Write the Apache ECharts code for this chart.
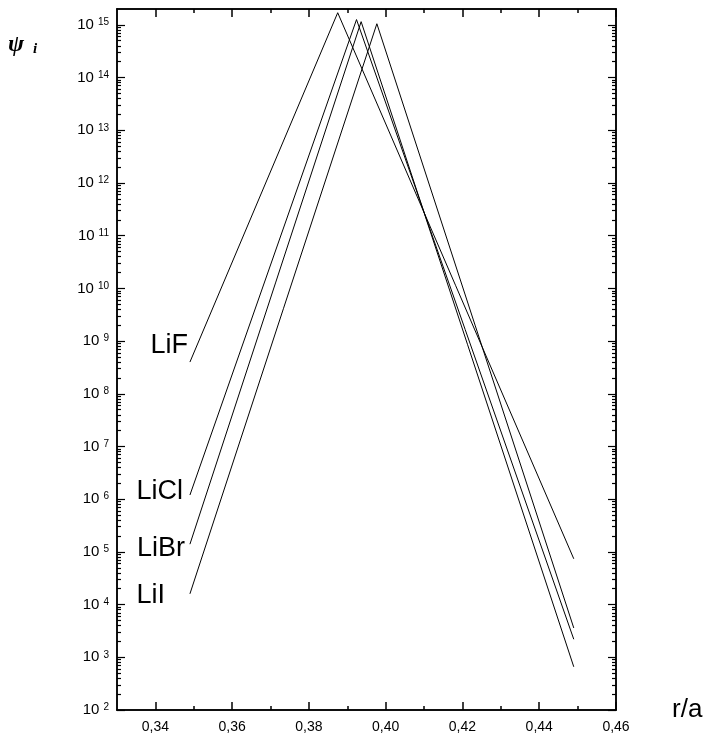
<!DOCTYPE html>
<html>
<head>
<meta charset="utf-8">
<script src="https://cdn.jsdelivr.net/npm/echarts@6/dist/echarts.min.js"></script>
<style>
  html, body { margin: 0; padding: 0; background: #fff; }
  #main { width: 707px; height: 742px; }
</style>
</head>
<body>
<div id="main"></div>
<script>
// r/a positions of the three points of each curve (start, peak, end)
var rLiF  = [0.349, 0.3875, 0.449];
var rLiCl = [0.349, 0.3924, 0.449];
var rLiBr = [0.349, 0.3936, 0.449];
var rLiI  = [0.349, 0.3977, 0.449];

// psi_i values at those points
var psiLiF  = [4.0e8, 1.7e15, 7.4e4];
var psiLiCl = [1.2e6, 1.26e15, 2.2e3];
var psiLiBr = [1.4e5, 1.15e15, 6.6e2];
var psiLiI  = [1.6e4, 1.05e15, 3.6e3];

var names = ['LiF', 'LiCl', 'LiBr', 'LiI'];

// axis ticks
var xTicks = [0.34, 0.36, 0.38, 0.40, 0.42, 0.44, 0.46];
var xMinor = [0.35, 0.37, 0.39, 0.41, 0.43, 0.45];
var yTicks = [1e2, 1e3, 1e4, 1e5, 1e6, 1e7, 1e8, 1e9, 1e10, 1e11, 1e12, 1e13, 1e14, 1e15];
var yMinorMult = [2, 3, 4, 5, 6, 7, 8, 9];

var yMinor = [];
yTicks.forEach(function (d) {
  yMinorMult.forEach(function (m) {
    if (d * m <= 2e15) yMinor.push(d * m);
  });
});

// where each curve's name sits next to its left end
var labelPlace = [
  { distance: 2, offset: [0, -17] },
  { distance: 7, offset: [0, -3] },
  { distance: 5, offset: [0, 4] },
  { distance: 25, offset: [0, 2] }
];

var chart = echarts.init(document.getElementById('main'));
var font = 'Liberation Sans, Arial, sans-serif';
var black = '#000';

function makeData(rs, ps, name, place) {
  var out = [];
  for (var i = 0; i < rs.length; i++) {
    var item = { value: [rs[i], ps[i]] };
    if (i === 0) {
      item.label = {
        show: true,
        position: 'left',
        distance: place.distance,
        offset: place.offset,
        formatter: name,
        fontSize: 27,
        fontFamily: font,
        color: black
      };
    }
    out.push(item);
  }
  return out;
}

function xAxisDef(pos, ticks, len, labels) {
  return {
    type: 'value',
    position: pos,
    min: 0.33,
    max: 0.46,
    axisLine: { show: true, onZero: false, lineStyle: { color: black, width: 1.5 } },
    axisTick: { show: true, inside: true, length: len, customValues: ticks, lineStyle: { color: black, width: 1.5 } },
    axisLabel: labels ? {
      show: true,
      customValues: ticks,
      margin: 10,
      fontSize: 14,
      fontFamily: font,
      color: black,
      formatter: function (v) { return v.toFixed(2).replace('.', ','); }
    } : { show: false },
    splitLine: { show: false }
  };
}

function yAxisDef(pos, ticks, len, labels) {
  return {
    type: 'log',
    logBase: 10,
    position: pos,
    min: 1e2,
    max: 2e15,
    axisLine: { show: true, onZero: false, lineStyle: { color: black, width: 1.5 } },
    axisTick: { show: true, inside: true, length: len, customValues: ticks, lineStyle: { color: black, width: 1.2 } },
    axisLabel: labels ? {
      show: true,
      customValues: ticks,
      margin: 8,
      color: black,
      formatter: function (v) {
        return '{b|10}{e|' + Math.round(Math.log10(v)) + '}';
      },
      rich: {
        b: { fontSize: 15, lineHeight: 15, fontFamily: font, color: black, verticalAlign: 'bottom' },
        e: { fontSize: 10, lineHeight: 10, fontFamily: font, color: black, verticalAlign: 'top', padding: [0, 0, 9, 4] }
      }
    } : { show: false },
    splitLine: { show: false }
  };
}

var xAxes = [
  xAxisDef('bottom', xTicks, 8, true),
  xAxisDef('bottom', xMinor, 4, false),
  xAxisDef('top', xTicks, 8, false),
  xAxisDef('top', xMinor, 4, false)
];
xAxes[0].name = 'r/a';
xAxes[0].nameLocation = 'end';
xAxes[0].nameGap = 56;
xAxes[0].nameTextStyle = { fontSize: 26, fontFamily: font, color: black, align: 'left', verticalAlign: 'middle' };

var yAxes = [
  yAxisDef('left', yTicks, 8, true),
  yAxisDef('left', yMinor, 4, false),
  yAxisDef('right', yTicks, 8, false),
  yAxisDef('right', yMinor, 4, false)
];

var allR = [rLiF, rLiCl, rLiBr, rLiI];
var allPsi = [psiLiF, psiLiCl, psiLiBr, psiLiI];

var series = names.map(function (n, i) {
  return {
    name: n,
    type: 'line',
    xAxisIndex: 0,
    yAxisIndex: 0,
    data: makeData(allR[i], allPsi[i], n, labelPlace[i]),
    showSymbol: true,
    symbol: 'circle',
    symbolSize: 0,
    itemStyle: { color: black },
    lineStyle: { color: black, width: 1 },
    label: { show: false },
    silent: true,
    animation: false
  };
});

option = {
  animation: false,
  backgroundColor: '#fff',
  grid: { left: 117, right: 91, top: 9, bottom: 32, containLabel: false },
  xAxis: xAxes,
  yAxis: yAxes,
  graphic: [{
    type: 'text',
    left: 8,
    top: 33,
    style: {
      text: '{p|ψ}{s|i}',
      rich: {
        p: { fontFamily: 'Liberation Serif, serif', fontStyle: 'italic', fontWeight: 'bold', fontSize: 24, fill: black },
        s: { fontFamily: 'Liberation Serif, serif', fontStyle: 'italic', fontWeight: 'bold', fontSize: 15, fill: black, padding: [0, 0, 0, 9], verticalAlign: 'bottom' }
      }
    }
  }],
  series: series
};

chart.setOption(option);
</script>
</body>
</html>
